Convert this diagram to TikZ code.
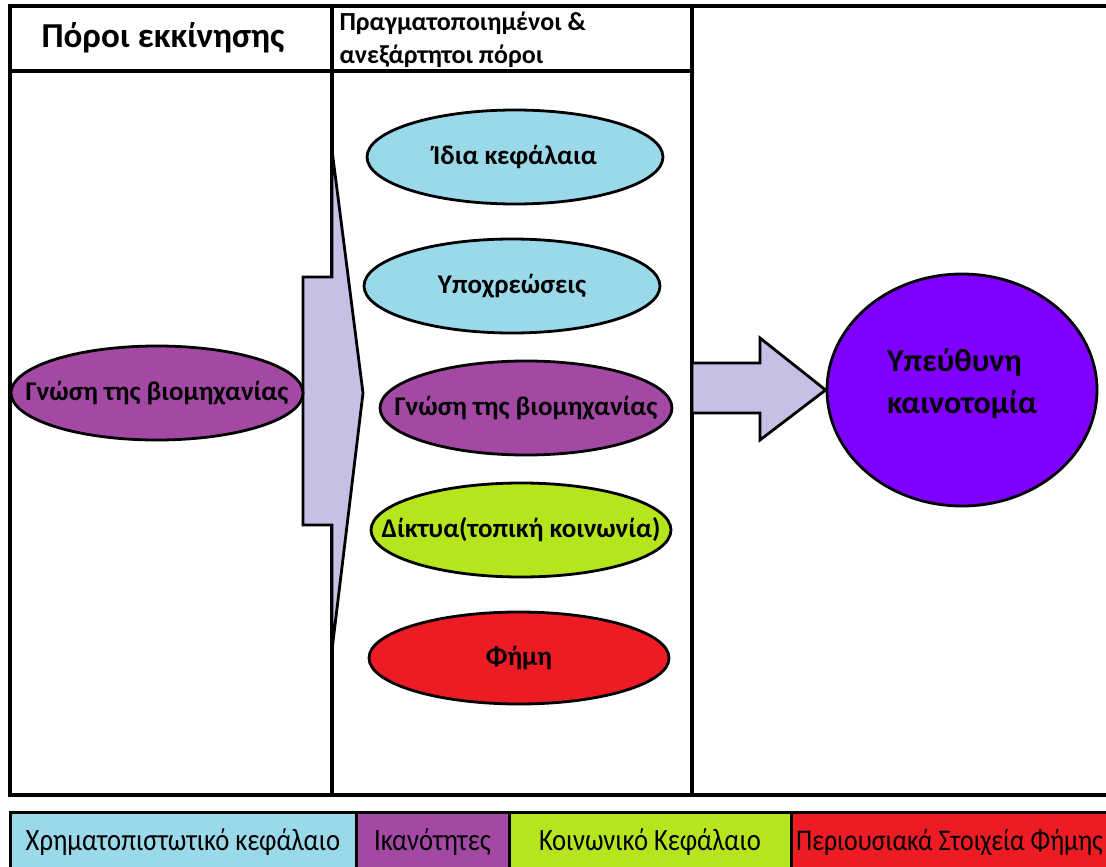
\documentclass[tikz,border=0pt]{standalone}
\usepackage{fontspec}
\setmainfont{Carlito}
\newfontfamily\keyfont[FakeStretch=0.86]{Carlito}
\usetikzlibrary{shapes.geometric, calc}
\definecolor{finblue}{HTML}{99D9EA}
\definecolor{skillpurple}{HTML}{A349A4}
\definecolor{socgreen}{HTML}{B5E61D}
\definecolor{famered}{HTML}{ED1C24}
\definecolor{arrowlilac}{HTML}{C8BFE7}
\definecolor{innoviolet}{HTML}{7F00FF}
\tikzset{
    res-oval/.style={
        ellipse, draw, line width=2.8pt, inner sep=0pt,
        minimum width=296pt, minimum height=94pt
    },
    res-text/.style={
        font=\fontsize{27}{29}\bfseries\selectfont
    },
    key-cell/.style={
        draw, line width=3pt, anchor=north west, inner sep=0pt, outer sep=0pt,
        minimum height=60pt, font=\keyfont\fontsize{31}{33}\selectfont
    },
}

\begin{document}
\begin{tikzpicture}[x=1pt, y=-1pt, line join=miter]

        \useasboundingbox (0,0) rectangle (1106,867);

        % TABLE
        \draw[line width=3.5pt] (1110,6) -- (10,6) -- (10,795) -- (1110,795);
        \draw[line width=3.5pt] (10,71)  -- (692,71);
        \draw[line width=3.5pt] (332,6)  -- (332,795);
        \draw[line width=3.5pt] (692,6)  -- (692,795);

        % HEADERS
        \node[font=\fontsize{35}{37}\bfseries\selectfont]         (StartHead) at (163,38) {Πόροι εκκίνησης};
        \node[font=\fontsize{26}{33}\bfseries\selectfont, align=left, anchor=west]
                                                                  (RealHead)  at (336,40) {Πραγματοποιημένοι \&\\ανεξάρτητοι πόροι};

        % ARROWS
        \draw[line width=2.8pt, fill=arrowlilac]
            (303,277) -- (332,277) -- (332,150) -- (363,393) -- (332,650) -- (332,525) -- (303,525) -- cycle;

        % START RESOURCE
        \node[res-oval, fill=skillpurple, minimum width=292pt, label={[res-text]center:Γνώση της βιομηχανίας}]
                                                       (Know)   at (157,393) {};

        % REALISED RESOURCES
        \node[res-oval, fill=finblue,    label={[res-text]center:Ίδια κεφάλαια}]           (Own)    at (515,157) {};
        \node[res-oval, fill=finblue,    label={[res-text]center:Υποχρεώσεις}]             (Debt)   at (512,286) {};
        \node[res-oval, fill=skillpurple, minimum width=292pt,
              label={[res-text]center:Γνώση της βιομηχανίας}]                              (KnowB)  at (526,408) {};
        \node[res-oval, fill=socgreen,   minimum width=300pt,
              label={[res-text]center:Δίκτυα(τοπική κοινωνία)}]                            (Nets)   at (521,530) {};
        \node[res-oval, fill=famered,    minimum width=300pt, minimum height=92pt,
              label={[res-text]center:Φήμη}]                                               (Fame)   at (519,658) {};

        % OUTCOME
        \node[ellipse, draw, line width=2.8pt, fill=innoviolet, inner sep=0pt,
              minimum width=270pt, minimum height=232pt,
              label={[font=\fontsize{32}{42}\bfseries\selectfont, align=left, yshift=6pt]center:Υπεύθυνη\\καινοτομία}]
                                                       (Innov)  at (962,390) {};
        \draw[line width=2.8pt, fill=arrowlilac]
            (692,363) -- (760,363) -- (760,338) -- (Innov.west) -- (760,440) -- (760,413) -- (692,413) -- cycle;

        % KEY
        \node[key-cell, fill=finblue,     minimum width=346pt] (KeyFin)   at (10,812)  {Χρηματοπιστωτικό κεφάλαιο};
        \node[key-cell, fill=skillpurple, minimum width=153pt] (KeySkill) at (KeyFin.north east)   {Ικανότητες};
        \node[key-cell, fill=socgreen,    minimum width=282pt] (KeySoc)   at (KeySkill.north east) {Κοινωνικό Κεφάλαιο};
        \node[key-cell, fill=famered,     minimum width=317pt,
              font=\keyfont\fontsize{30}{32}\selectfont]     (KeyFame)  at (KeySoc.north east)   {Περιουσιακά Στοιχεία Φήμης};

    \end{tikzpicture}
\end{document}
